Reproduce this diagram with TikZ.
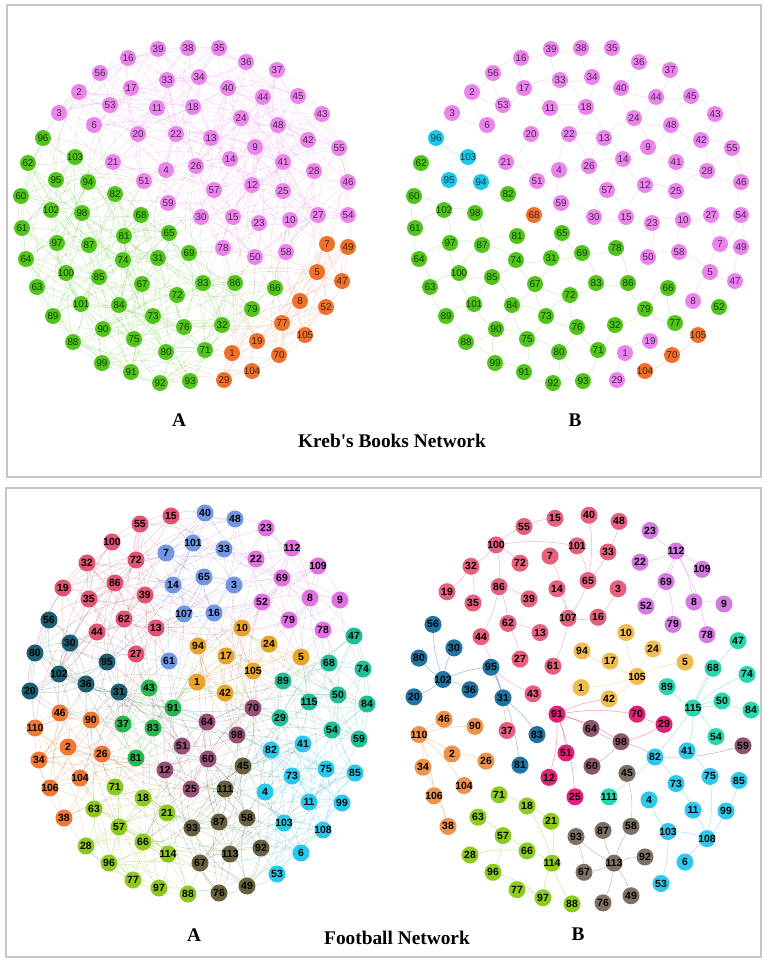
\documentclass[tikz,border=0pt]{standalone}
\usepackage{fontspec}
\setmainfont{Liberation Serif}
\newfontfamily\numfont{Liberation Sans}
\usetikzlibrary{backgrounds}
% Kreb's books: 1 pink, 2 green, 3 orange, 4 cyan
\definecolor{kacol1}{RGB}{234,132,236}
\definecolor{kacol2}{RGB}{80,196,26}
\definecolor{kacol3}{RGB}{238,112,42}
\colorlet{kbcol1}{kacol1}
\colorlet{kbcol2}{kacol2}
\colorlet{kbcol3}{kacol3}
\definecolor{kbcol4}{RGB}{28,200,232}
% football, panel A
\definecolor{facol1}{RGB}{226,82,114}
\definecolor{facol2}{RGB}{112,150,228}
\definecolor{facol3}{RGB}{226,112,228}
\definecolor{facol4}{RGB}{232,164,40}
\definecolor{facol5}{RGB}{28,96,112}
\definecolor{facol6}{RGB}{40,184,80}
\definecolor{facol7}{RGB}{32,190,150}
\definecolor{facol8}{RGB}{150,80,118}
\definecolor{facol9}{RGB}{40,200,235}
\definecolor{facol10}{RGB}{102,96,60}
\definecolor{facol11}{RGB}{140,200,30}
\definecolor{facol12}{RGB}{240,120,50}
% football, panel B
\definecolor{fbcol1}{RGB}{230,95,125}
\definecolor{fbcol2}{RGB}{212,120,226}
\definecolor{fbcol3}{RGB}{240,188,80}
\definecolor{fbcol4}{RGB}{30,115,160}
\definecolor{fbcol5}{RGB}{40,214,175}
\definecolor{fbcol6}{RGB}{225,32,120}
\definecolor{fbcol7}{RGB}{140,86,110}
\definecolor{fbcol8}{RGB}{45,200,235}
\definecolor{fbcol9}{RGB}{125,112,100}
\definecolor{fbcol10}{RGB}{140,204,30}
\definecolor{fbcol11}{RGB}{240,145,75}
\tikzset{
  kvtx/.style={circle, inner sep=0pt, minimum size=12pt, font=\numfont\fontsize{7.4}{8}\selectfont},
  fvtx/.style={circle, inner sep=0pt, minimum size=12.8pt, text=black, font=\numfont\bfseries\fontsize{7.8}{8}\selectfont},
  kaedge/.style={line width=0.35pt, draw opacity=0.25},
  kbedge/.style={line width=0.35pt, draw opacity=0.3},
  faedge/.style={line width=0.35pt, draw opacity=0.3},
  fbedge/.style={line width=0.4pt, draw opacity=0.45},
  panel/.style={draw=gray!45, line width=1.2pt},
  caption/.style={font=\bfseries\fontsize{14.5}{16}\selectfont},
}
% node / x / y (px) / community in A / community in B
\newcommand\kreblist{1/232/353/3/1, 2/79/92/1/1, 3/59/113/1/1, 4/166/170/1/1, 5/317/272/3/1, 6/94/125/1/1, 7/327/244/3/1, 8/300/301/3/1, 9/255/147/1/1, 10/290/220/1/1,
11/157/108/1/1, 12/252/185/1/1, 13/211/138/1/1, 14/230/159/1/1, 15/233/217/1/1, 16/128/58/1/1, 17/131/88/1/1, 18/193/107/1/1, 19/257/341/3/1, 20/138/134/1/1,
21/113/162/1/1, 22/176/134/1/1, 23/259/223/1/1, 24/241/118/1/1, 25/283/191/1/1, 26/196/166/1/1, 27/318/215/1/1, 28/314/171/1/1, 29/224/380/3/1, 30/201/217/1/1,
31/158/258/2/2, 32/222/325/2/2, 33/167/80/1/1, 34/199/77/1/1, 35/219/48/1/1, 36/246/62/1/1, 37/277/70/1/1, 38/188/48/1/1, 39/158/49/1/1, 40/228/88/1/1,
41/283/162/1/1, 42/308/140/1/1, 43/322/114/1/1, 44/263/97/1/1, 45/298/96/1/1, 46/348/182/1/1, 47/342/281/3/1, 48/278/125/1/1, 49/348/247/3/1, 50/255/257/1/1,
51/144/181/1/1, 52/326/307/3/2, 53/110/105/1/1, 54/348/215/1/1, 55/339/148/1/1, 56/100/73/1/1, 57/214/190/1/1, 58/286/252/1/1, 59/168/203/1/1, 60/21/196/2/2,
61/22/228/2/2, 62/28/163/2/2, 63/37/287/2/2, 64/26/259/2/2, 65/169/233/2/2, 66/275/288/2/2, 67/142/284/2/2, 68/141/215/2/3, 69/189/253/2/2, 70/279/355/3/3,
71/205/350/2/2, 72/177/295/2/2, 73/153/316/2/2, 74/123/260/2/2, 75/134/339/2/2, 76/184/327/2/2, 77/282/323/3/2, 78/223/248/1/2, 79/252/309/2/2, 80/166/352/2/2,
81/124/236/2/2, 82/115/194/2/2, 83/203/283/2/2, 84/119/305/2/2, 85/99/277/2/2, 86/235/283/2/2, 87/89/245/2/2, 88/73/342/2/2, 89/53/316/2/2, 90/103/329/2/2,
91/131/372/2/2, 92/160/383/2/2, 93/190/381/2/2, 94/88/182/2/4, 95/56/180/2/4, 96/43/138/2/4, 97/57/243/2/2, 98/82/213/2/2, 99/102/363/2/2, 100/66/273/2/2,
101/81/304/2/2, 102/51/210/2/2, 103/75/157/2/4, 104/252/371/3/3, 105/305/335/3/3}
\newcommand\footlist{1/197/682/4/3, 2/68/747/12/11, 3/234/585/2/1, 4/265/792/9/8, 5/301/657/4/3, 6/301/853/9/8, 7/166/553/2/1, 8/310/598/3/2, 9/340/600/3/2, 10/242/628/4/3,
11/309/802/9/8, 12/165/770/8/6, 13/156/628/1/1, 14/173/585/2/1, 15/171/516/1/1, 16/214/613/2/1, 17/226/656/4/3, 18/143/798/11/10, 19/63/588/1/1, 20/30/691/5/4,
21/167/813/11/10, 22/256/559/3/2, 23/266/528/3/2, 24/269/644/4/3, 25/191/789/8/6, 26/102/754/12/11, 27/136/654/1/1, 28/86/846/11/10, 29/280/718/7/6, 30/70/643/5/4,
31/119/692/5/4, 32/87/563/1/1, 33/224/549/2/1, 34/39/760/12/11, 35/89/599/1/1, 36/86/684/5/4, 37/123/724/6/1, 38/64/818/12/11, 39/145/595/1/1, 40/205/513/2/1,
41/303/744/9/8, 42/225/693/4/3, 43/149/688/6/1, 44/97/632/1/1, 45/243/766/10/9, 46/60/713/12/11, 47/354/636/7/5, 48/235/519/2/1, 49/247/886/10/9, 50/338/695/7/5,
51/182/746/8/6, 52/262/602/3/2, 53/277/874/9/8, 54/332/730/7/5, 55/140/524/1/1, 56/49/620/5/4, 57/119/827/11/10, 58/247/818/10/9, 59/359/739/7/7, 60/208/759/8/7,
61/169/661/2/1, 62/124/619/1/1, 63/94/809/11/10, 64/207/722/8/7, 65/204/577/2/1, 66/143/842/11/10, 67/200/863/10/9, 68/329/663/7/5, 69/282/578/3/2, 70/253/708/8/6,
71/115/787/11/10, 72/136/560/1/1, 73/292/776/9/8, 74/363/669/7/5, 75/326/769/9/8, 76/219/893/10/9, 77/133/880/11/10, 78/323/630/3/2, 79/289/620/3/2, 80/35/653/5/4,
81/136/758/6/4, 82/271/750/9/8, 83/153/728/6/4, 84/367/704/7/5, 85/355/773/9/8, 86/115/583/1/1, 87/219/822/10/9, 88/188/894/11/10, 89/283/681/7/5, 90/91/720/12/11,
91/173/708/6/6, 92/261/848/10/9, 93/192/828/10/9, 94/198/646/4/3, 95/107/662/5/4, 96/109/863/11/10, 97/159/888/11/10, 98/237/735/8/7, 99/342/803/9/8, 100/112/542/1/1,
101/193/543/2/1, 102/59/674/5/4, 103/284/823/9/8, 104/80/778/12/11, 105/253/671/4/3, 106/50/788/12/11, 107/184/614/2/1, 108/323/830/9/8, 109/318/566/3/2, 110/35/728/12/11,
111/225/789/10/5, 112/292/548/3/2, 113/230/854/10/9, 114/168/854/11/10, 115/309/702/7/5}
% draw an edge i--j of net #1, panel #2 when close enough:
% #5 same-community radius^2, #6 cross radius^2, #7 long-range radius^2
\newcommand\tryedge[7]{%
  \edef\edx{\number\numexpr\csname #1x#3\endcsname-\csname #1x#4\endcsname\relax}%
  \edef\edy{\number\numexpr\csname #1y#3\endcsname-\csname #1y#4\endcsname\relax}%
  \edef\edd{\number\numexpr\edx*\edx+\edy*\edy\relax}%
  \edef\eci{\csname #1c#2#3\endcsname}%
  \edef\ecj{\csname #1c#2#4\endcsname}%
  \edef\ehh{\number\numexpr #3*37+#4*53\relax}%
  \edef\ehh{\number\numexpr\ehh-7*((\ehh-3)/7)\relax}%
  \edef\ebend{\ifodd\ehh\space 14\else -14\fi}%
  \ifnum\eci=\ecj\relax
    \ifnum\edd<#5\relax
      \draw[#1#2edge, draw=#1#2col\eci] (#1#2#3) to[bend left=\ebend] (#1#2#4);
    \else\ifnum\edd<#7\relax\ifnum\ehh<2\relax
      \draw[#1#2edge, draw=#1#2col\eci] (#1#2#3) to[bend left=\ebend] (#1#2#4);
    \fi\fi\fi
  \else
    \ifnum\edd<#6\relax\ifnum\ehh<3\relax
      \draw[#1#2edge, draw=#1#2col\eci!50!#1#2col\ecj] (#1#2#3) to[bend left=\ebend] (#1#2#4);
    \fi\else\ifnum\edd<#7\relax\ifnum\ehh=6\relax
      \draw[#1#2edge, draw=#1#2col\eci!50!#1#2col\ecj] (#1#2#3) to[bend left=\ebend] (#1#2#4);
    \fi\fi\fi
  \fi}

\begin{document}
\begin{tikzpicture}[x=0.75pt, y=-0.75pt]
\useasboundingbox (0,0) rectangle (764,960);
\begin{scope}[on background layer]
\fill[white] (0,0) rectangle (764,960);
\end{scope}
% ---- frames and captions ----
\draw[panel] (7,5) rectangle (761,477);
\draw[panel] (6,488) rectangle (761,957);
\node[caption] (kA) at (179,420) {A};
\node[caption] (kB) at (575,420) {B};
\node[caption] (ktitle) at (392,441) {Kreb\textquotesingle s Books Network};
\node[caption] (fA) at (194,935) {A};
\node[caption] (fB) at (578,934) {B};
\node[caption] (ftitle) at (397,938) {Football Network};

% ---- Kreb's books: A at x, B shifted by 393 ----
\foreach \n/\x/\y/\ca/\cb in \kreblist{
  \expandafter\xdef\csname kx\n\endcsname{\x}
  \expandafter\xdef\csname ky\n\endcsname{\y}
  \expandafter\xdef\csname kca\n\endcsname{\ca}
  \expandafter\xdef\csname kcb\n\endcsname{\cb}
  \node[kvtx, fill=kacol\ca, text=kacol\ca!30!black] (ka\n) at (\x,\y) {\makebox[0pt]{\n}};
  \node[kvtx, fill=kbcol\cb, text=kbcol\cb!30!black] (kb\n) at (\x+393,\y) {\makebox[0pt]{\n}};
}
% ---- football: A at x, B shifted by 384 and stretched a little ----
\foreach \n/\x/\y/\ca/\cb in \footlist{
  \expandafter\xdef\csname fx\n\endcsname{\x}
  \expandafter\xdef\csname fy\n\endcsname{\y}
  \expandafter\xdef\csname fca\n\endcsname{\ca}
  \expandafter\xdef\csname fcb\n\endcsname{\cb}
  \node[fvtx, fill=facol\ca] (fa\n) at (\x,\y) {\makebox[0pt]{\n}};
  \node[fvtx, fill=fbcol\cb] (fb\n) at (\x+384,1.02*\y-8) {\makebox[0pt]{\n}};
}

\begin{scope}[on background layer]
% dense edges: neighbours within a community, a few across
\foreach \i in {1,...,104}{
  \pgfmathtruncatemacro{\ii}{\i+1}
  \foreach \j in {\ii,...,105}{
    \tryedge{k}{a}{\i}{\j}{3025}{1600}{19600}
    \tryedge{k}{b}{\i}{\j}{1444}{0}{0}
  }
}
\foreach \i in {1,...,114}{
  \pgfmathtruncatemacro{\ii}{\i+1}
  \foreach \j in {\ii,...,115}{
    \tryedge{f}{a}{\i}{\j}{3600}{3025}{22500}
  }
}
% football B: hub and spokes
\foreach \a/\b in {100/55, 55/15, 100/101, 100/32, 100/72, 100/86, 32/19, 32/35, 86/39, 86/62, 86/44, 62/13, 62/27,
  44/37, 101/65, 40/65, 33/65, 48/33, 65/107, 14/107, 7/107, 16/107, 3/16, 107/61, 43/95,
  112/23, 112/22, 112/109, 112/69, 112/8, 112/78, 112/52, 69/79, 8/9,
  105/94, 105/17, 105/10, 105/24, 105/5, 105/1, 105/42,
  102/56, 102/30, 102/80, 102/20, 102/36, 102/95, 95/31, 31/83, 95/81,
  115/89, 115/68, 115/47, 115/74, 115/50, 115/84, 115/54, 115/111, 115/41,
  91/70, 91/64, 91/98, 91/51, 91/12, 91/25, 91/42, 29/98, 29/70, 98/64, 98/60, 98/82, 59/82,
  82/73, 73/11, 103/4, 103/108, 11/108, 75/108, 99/108, 85/99, 6/108, 103/53, 41/75,
  113/93, 113/87, 113/58, 113/92, 113/67, 113/49, 113/76, 93/67, 45/58,
  71/18, 18/21, 18/114, 21/114, 66/114, 57/66, 28/66, 63/57, 57/96, 96/97, 77/97, 97/114, 88/114,
  110/46, 110/90, 110/2, 2/26, 110/34, 110/104, 110/106, 106/38, 34/38}{
  \edef\ec{\csname fcb\a\endcsname}
  \draw[fbedge, draw=fbcol\ec] (fb\a) to[bend left=8] (fb\b);
}
\end{scope}
\end{tikzpicture}
\end{document}
